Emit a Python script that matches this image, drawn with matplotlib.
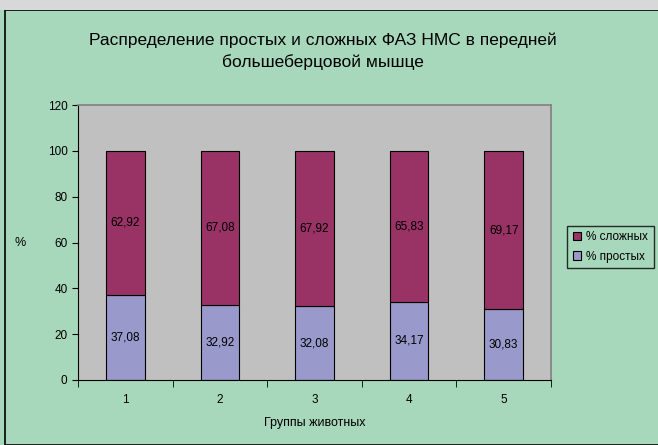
import numpy as np
import matplotlib.pyplot as plt
from matplotlib.patches import Rectangle

plt.rcParams['font.family'] = ['Liberation Sans', 'DejaVu Sans']

groups = ['1', '2', '3', '4', '5']
simple = [37.08, 32.92, 32.08, 34.17, 30.83]
complex_ = [62.92, 67.08, 67.92, 65.83, 69.17]
simple_lbl = ['37,08', '32,92', '32,08', '34,17', '30,83']
complex_lbl = ['62,92', '67,08', '67,92', '65,83', '69,17']

bg = '#A8D8BC'
fig = plt.figure(figsize=(6.58, 4.45), dpi=100, facecolor=bg)
# outer frame
fig.patches.append(Rectangle((5/658, 0), 1, 1 - 10/445, transform=fig.transFigure,
                             fill=False, edgecolor='black', linewidth=1.2))
fig.patches.append(Rectangle((0, 1 - 10/445), 1, 10/445, transform=fig.transFigure,
                             facecolor='#d8d8d8', edgecolor='none'))

ax = fig.add_axes([78/658, 65/445, 473/658, 275/445])
ax.set_facecolor('#C0C0C0')
x = np.arange(len(groups))
w = 0.41
ax.bar(x, simple, w, color='#9999CC', edgecolor='black', linewidth=0.8, label='% простых')
ax.bar(x, complex_, w, bottom=simple, color='#993366', edgecolor='black', linewidth=0.8,
       label='% сложных')
for i in range(len(groups)):
    ax.text(x[i], simple[i] / 2, simple_lbl[i], ha='center', va='center', fontsize=8.5)
    ax.text(x[i], simple[i] + complex_[i] / 2, complex_lbl[i], ha='center', va='center', fontsize=8.5)

ax.set_xlim(-0.5, 4.5)
ax.set_ylim(0, 120)
ax.set_yticks(range(0, 121, 20))
ax.set_xticks(x)
ax.set_xticklabels(groups)
ax.set_xticks(np.arange(-0.5, 5, 1), minor=True)
ax.tick_params(axis='x', which='major', length=0, pad=10, labelsize=8.5)
ax.tick_params(axis='x', which='minor', length=5, direction='out')
ax.tick_params(axis='y', length=4, labelsize=8.5)
for s in ['top', 'right']:
    ax.spines[s].set_color('#808080')
    ax.spines[s].set_linewidth(1.2)
ax.set_xlabel('Группы животных', fontsize=9, labelpad=8)
ax.set_ylabel('%', fontsize=9, rotation=0, labelpad=20, va='center')

fig.text(323/658, 1 - 40/445, 'Распределение простых и сложных ФАЗ НМС в передней',
         ha='center', va='center', fontsize=12.5)
fig.text(323/658, 1 - 62/445, 'большеберцовой мышце', ha='center', va='center', fontsize=12.5)

h, l = ax.get_legend_handles_labels()
leg = fig.legend(h[::-1], l[::-1], loc='center left', bbox_to_anchor=(561/658, 1 - 247/445),
                 fontsize=8.5, frameon=True, fancybox=False, handlelength=0.7, handleheight=0.7,
                 handletextpad=0.4, borderpad=0.5, labelspacing=0.6)
leg.get_frame().set_edgecolor('black')
leg.get_frame().set_facecolor(bg)

fig.savefig('out.png', dpi=100, facecolor=bg)
